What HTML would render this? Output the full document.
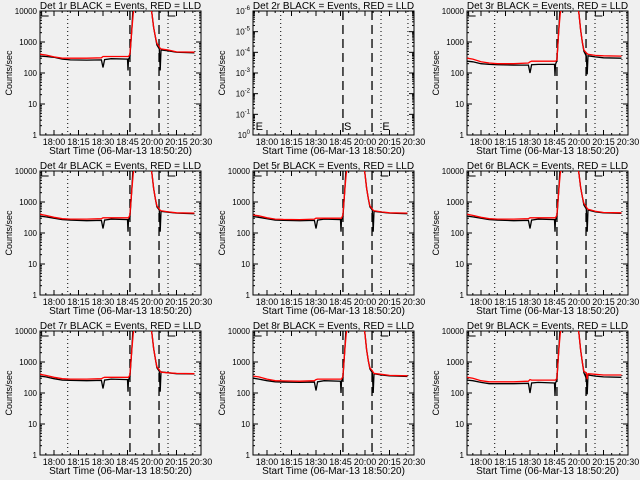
<!DOCTYPE html>
<html><head><meta charset="utf-8">
<style>
html,body{margin:0;padding:0;background:#f0f0f0;}
svg{display:block;font-family:"Liberation Sans",sans-serif;}
</style></head>
<body>
<svg id="chart" width="640" height="480" viewBox="0 0 640 480" xmlns="http://www.w3.org/2000/svg">
<rect x="0" y="0" width="640" height="480" fill="#f0f0f0"/>
</svg>
<script>
// ---- data ----
const panelTitles = ["Det 1r","Det 2r","Det 3r","Det 4r","Det 5r","Det 6r","Det 7r","Det 8r","Det 9r"];
const tickLabels = ["18:00","18:15","18:30","18:45","20:00","20:15","20:30"];
const tickMinutes = [0,15,30,45,60,75,90];
const dottedMinutes = [8.4,69.8,86.3];
const dashedMinutes = [46.5,64.3];
const times = [-8.5,-5,0,5,10,20,29,30,31,35,45,45.3,45.6,46.5,47.5,48.5,49.5,59,60,61,62,63,64.5,65,65.5,70,75,86];
const black1 = [350,340,320,280,265,260,265,150,270,290,280,120,280,330,2000,15000,15000,15000,8000,3000,1500,800,600,120,550,520,470,450];
const red1   = [400,380,330,300,300,300,310,340,340,340,340,340,340,400,2000,8000,15000,15000,8000,3000,1500,900,700,620,600,550,480,470];
const black3 = [240,230,200,190,185,180,180,100,185,190,190,80,190,250,2000,15000,15000,15000,8000,2500,1000,500,350,90,360,330,310,300];
const red3   = [300,280,230,210,200,200,210,230,240,240,240,240,240,260,2000,8000,15000,15000,8000,2500,1000,550,450,420,400,370,360,350];
const black4 = [350,330,300,270,260,250,255,140,260,280,270,110,270,320,2000,15000,15000,15000,8000,2800,1300,700,550,110,500,470,440,420];
const red4   = [400,370,320,290,280,280,290,310,310,310,310,310,310,380,2000,8000,15000,15000,8000,2800,1300,750,600,540,520,480,450,440];
const black5 = [340,320,290,260,255,250,255,140,260,280,270,110,270,320,2000,15000,15000,15000,8000,2800,1300,700,550,110,500,470,440,420];
const red5   = [380,360,310,280,275,270,280,300,300,300,300,300,300,380,2000,8000,15000,15000,8000,2800,1300,750,600,540,520,480,450,440];
const black6 = [350,330,300,270,260,250,255,140,260,280,270,110,270,320,2000,15000,15000,15000,8000,3000,1500,800,600,110,550,480,450,430];
const red6   = [400,370,320,290,280,280,290,310,310,310,310,310,310,380,2000,8000,15000,15000,8000,3000,1500,900,700,620,580,500,460,450];
const black7 = [350,330,290,260,255,250,255,140,260,280,270,110,270,320,2000,15000,15000,15000,8000,2800,1300,650,500,110,480,450,420,410];
const red7   = [400,370,320,290,280,280,290,310,320,320,320,320,320,380,2000,8000,15000,15000,8000,2800,1300,700,560,500,470,450,430,420];
const black8 = [300,280,250,230,225,220,225,120,230,250,240,100,240,300,2000,15000,15000,15000,8000,2500,1100,600,450,100,420,380,360,340];
const red8   = [350,330,280,250,245,240,250,270,280,280,280,280,280,340,2000,8000,15000,15000,8000,2500,1100,650,520,470,430,400,370,360];
const black9 = [260,250,220,200,200,200,205,100,210,220,210,80,210,260,2000,15000,15000,15000,8000,2500,1000,450,300,90,380,350,330,320];
const red9   = [320,300,250,230,230,230,240,270,260,260,260,260,260,300,2000,8000,15000,15000,8000,2500,1000,500,450,280,420,400,380,380];
const blackSeries = [black1,null,black3,black4,black5,black6,black7,black8,black9];
const redSeries   = [red1,null,red3,red4,red5,red6,red7,red8,red9];
const logTickLabels = ["1","10","100","1000","10000"];
const det2Exponents = ["0","-1","-2","-3","-4","-5","-6"];

// ---- drawing ----
const NS = "http://www.w3.org/2000/svg";
const svg = document.getElementById("chart");
function mk(tag, attrs, parent){
  const e = document.createElementNS(NS, tag);
  for (const k in attrs) e.setAttribute(k, attrs[k]);
  (parent||svg).appendChild(e);
  return e;
}
const PL=40, PR=201, PT=11, PB=135;
const xMin=-8.57, xMax=90;
for (let p=0;p<9;p++){
  const ox = [0,213,427][p%3], oy = [0,160,320][Math.floor(p/3)];
  const g = mk("g",{transform:`translate(${ox},${oy})`});
  
  
  const xs = t => PL + (t - xMin)/(xMax - xMin)*(PR-PL);
  const ys = v => PB - Math.log10(Math.max(v,0.5))/4*(PB-PT);
  const cid = "clip"+p;
  const cp = mk("clipPath",{id:cid},g); mk("rect",{x:PL,y:PT,width:PR-PL,height:PB-PT},cp);
  const ti = mk("text",{x:(PL+PR)/2,y:9,"text-anchor":"middle","font-size":"10"},g);
  ti.textContent = panelTitles[p]+" BLACK = Events, RED = LLD";
  
  
  const box = mk("rect",{x:PL,y:PT,width:PR-PL,height:PB-PT,fill:"none",stroke:"#000","stroke-width":1},g);
  
  
  tickMinutes.forEach((m,i)=>{
    const x = xs(m);
    mk("line",{x1:x,x2:x,y1:PB,y2:PB-5,stroke:"#000"},g);
    mk("line",{x1:x,x2:x,y1:PT,y2:PT+5,stroke:"#000"},g);
    const tl = mk("text",{x:x,y:PB+10,"text-anchor":"middle","font-size":"9"},g);
    tl.textContent = tickLabels[i];
    
    
  });
  for (let m=-5;m<=90;m+=5){ const x=xs(m); if(x<PL) continue;
    mk("line",{x1:x,x2:x,y1:PB,y2:PB-2,stroke:"#000"},g);
    mk("line",{x1:x,x2:x,y1:PT,y2:PT+2,stroke:"#000"},g); }
  const xl = mk("text",{x:(PL+PR)/2,y:PB+19,"text-anchor":"middle","font-size":"10"},g);
  xl.textContent = "Start Time (06-Mar-13 18:50:20)";
  
  
  const yl = mk("text",{x:0,y:0,"text-anchor":"middle","font-size":"9",transform:`translate(12,${(PT+PB)/2}) rotate(-90)`},g);
  yl.textContent = "Counts/sec";
  
  
  if (p===1){
    const nd = det2Exponents.length-1;
    det2Exponents.forEach((e,i)=>{
      const y = PB - i/nd*(PB-PT);
      mk("line",{x1:PL,x2:PL+5,y1:y,y2:y,stroke:"#000"},g);
      mk("line",{x1:PR,x2:PR-5,y1:y,y2:y,stroke:"#000"},g);
      for(let k=2;k<10 && i<nd;k++){ const yy=y-Math.log10(k)/nd*(PB-PT);
        mk("line",{x1:PL,x2:PL+2,y1:yy,y2:yy,stroke:"#000"},g);
        mk("line",{x1:PR,x2:PR-2,y1:yy,y2:yy,stroke:"#000"},g);}
      const t = mk("text",{x:PL-3,y:y+3,"text-anchor":"end","font-size":"8"},g);
      t.textContent = "10";
      const s = mk("tspan",{dy:"-4","font-size":"6"},t); s.textContent = e;
      
      
    });
    [["E",xMin+1],["S",46.5],["E",70]].forEach(([c,m])=>{
      const t=mk("text",{x:xs(m)+1,y:PB-5,"font-size":"11"},g); t.textContent=c;
      
      
    });
  } else {
    logTickLabels.forEach((lab,i)=>{
      const y = ys(Math.pow(10,i));
      mk("line",{x1:PL,x2:PL+5,y1:y,y2:y,stroke:"#000"},g);
      mk("line",{x1:PR,x2:PR-5,y1:y,y2:y,stroke:"#000"},g);
      if(i<4) for(let k=2;k<10;k++){ const yy=ys(k*Math.pow(10,i));
        mk("line",{x1:PL,x2:PL+2,y1:yy,y2:yy,stroke:"#000"},g);
        mk("line",{x1:PR,x2:PR-2,y1:yy,y2:yy,stroke:"#000"},g);}
      const t = mk("text",{x:PL-3,y:y+3,"text-anchor":"end","font-size":"8"},g);
      t.textContent = lab;
      
      
    });
    [xMin+1,70].forEach(m=>{ const x=xs(m);
      const b=mk("polyline",{points:`${x+7},${PT} ${x},${PT} ${x},${PT+5} ${x+7},${PT+5}`,fill:"none",stroke:"#000"},g);
      
       });
  }
  dottedMinutes.forEach(m=>{ const x=xs(m);
    const l=mk("line",{x1:x,x2:x,y1:PT,y2:PB,stroke:"#000","stroke-dasharray":"1 3"},g);
    
     });
  dashedMinutes.forEach(m=>{ const x=xs(m);
    const l=mk("line",{x1:x,x2:x,y1:PT,y2:PB,stroke:"#000","stroke-dasharray":"9 5","stroke-width":1.3},g);
    
     });
  if (blackSeries[p]){
    const gp = mk("g",{"clip-path":`url(#${cid})`},g);
    const pts = s => times.map((t,i)=>xs(t).toFixed(1)+","+ys(s[i]).toFixed(1)).join(" ");
    const bl = mk("polyline",{points:pts(blackSeries[p]),fill:"none",stroke:"#000","stroke-width":1.3},gp);
    
    
    const rl = mk("polyline",{points:pts(redSeries[p]),fill:"none",stroke:"#ff0000","stroke-width":1.3},gp);
    
    
  }
}
</script>
</body></html>
